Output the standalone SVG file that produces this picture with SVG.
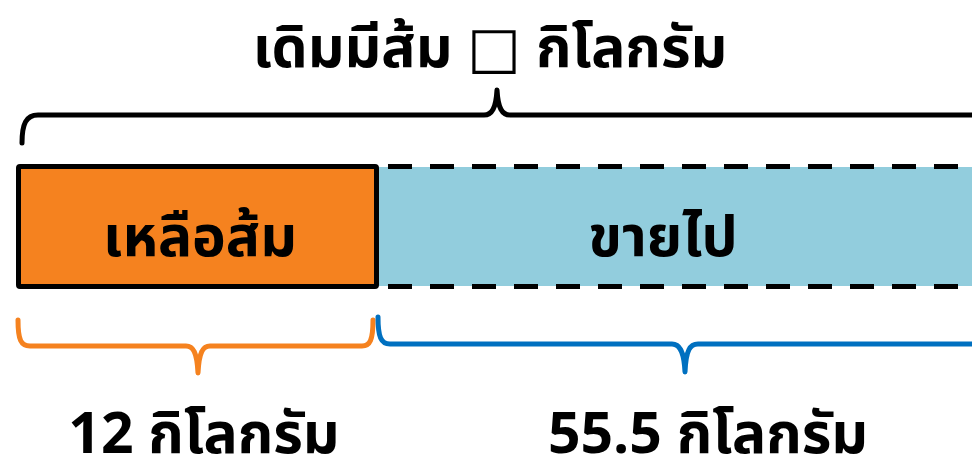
<svg xmlns="http://www.w3.org/2000/svg" width="972" height="462" viewBox="0 0 972 462">
<style>
.t{font-family:"Noto Sans Thai","Noto Sans","DejaVu Sans",sans-serif;font-weight:bold;font-size:57px;fill:#000;text-anchor:middle}
.br{fill:none;stroke-width:5;stroke-linecap:round;stroke-linejoin:round}
</style>
<g id="title"><text class="t" x="490" y="67">เดิมมีส้ม □ กิโลกรัม</text></g>
<g id="connectors">
<path class="br" stroke="#000" d="M22,143 C22,124 26,115 38,115 L484,115 C492,115 496,108 497,90 C498,108 502,115 510,115 L980,115"/>
<path class="br" stroke="#F5821F" d="M18,320 C18,340 21,346 30,346 L186,346 C193,346 197,352 198,373 C199,352 203,346 210,346 L362,346 C370,346 373,340 373,320"/>
<path class="br" stroke="#0070C0" d="M378,317 C378,337 381,344 390,344 L672,344 C679,344 684,350 685,372 C686,350 690,344 698,344 L980,344"/>
</g>
<g id="sold">
<rect x="377" y="167" width="600" height="119" fill="#92CDDD"/>
<path d="M377,166.5 H980 M377,286.5 H980" stroke="#000" stroke-width="5" stroke-dasharray="24 18" stroke-dashoffset="-11" fill="none"/>
<text class="t" x="663" y="256">ขายไป</text>
</g>
<g id="left">
<rect x="18.5" y="166.5" width="358" height="120" rx="1.5" fill="#F5821F" stroke="#000" stroke-width="5" stroke-linejoin="round"/>
<text class="t" x="200" y="256">เหลือส้ม</text>
</g>
<g id="label12"><text class="t" x="204" y="453">12 กิโลกรัม</text></g>
<g id="label55"><text class="t" x="708" y="453">55.5 กิโลกรัม</text></g>
</svg>
